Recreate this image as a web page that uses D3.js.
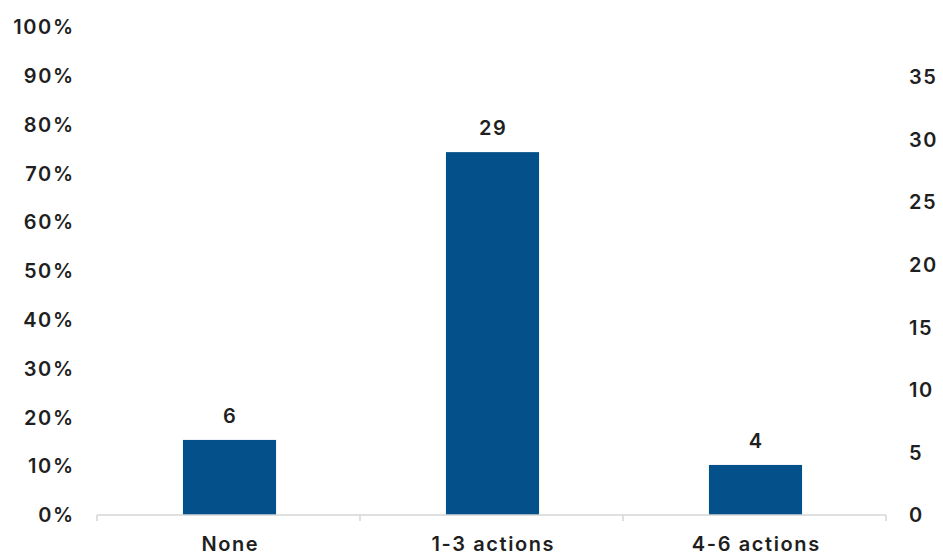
<!DOCTYPE html>
<html>
<head>
<meta charset="utf-8">
<script src="https://cdn.jsdelivr.net/npm/d3@7"></script>
<style>
  html, body { margin: 0; padding: 0; background: #fff; }
  svg text { font-family: "Inter", "Lato", sans-serif; fill: #1f1f1f; font-size: 20px; font-weight: 600; letter-spacing: 1.6px; }
</style>
</head>
<body>
<svg id="chart" width="943" height="557"></svg>
<script>
// Number of actions taken, by group
const categories = ["None", "1-3 actions", "4-6 actions"];
const counts = [6, 29, 4];
const leftTicks = [0, 0.1, 0.2, 0.3, 0.4, 0.5, 0.6, 0.7, 0.8, 0.9, 1.0];
const rightTicks = [0, 5, 10, 15, 20, 25, 30, 35];

const total = d3.sum(counts);
const ls = 1.6; // letter spacing, compensated on anchored text

const svg = d3.select("#chart");
const margin = { top: 27, right: 57, bottom: 42, left: 97 };
const width = 943 - margin.left - margin.right;
const height = 557 - margin.top - margin.bottom;

const g = svg.append("g").attr("transform", `translate(${margin.left},${margin.top})`);

const x = d3.scaleBand().domain(categories).range([0, width]).paddingInner(0).paddingOuter(0);
const yPct = d3.scaleLinear().domain([0, 1]).range([height, 0]);
const yCount = d3.scaleLinear().domain([0, total]).range([height, 0]);

const barW = x.bandwidth() * 0.354;

// Left percentage axis (labels only)
g.append("g")
  .selectAll("text")
  .data(leftTicks)
  .join("text")
  .attr("x", -24 + ls)
  .attr("y", d => yPct(d))
  .attr("dy", "0.36em")
  .attr("text-anchor", "end")
  .text(d => d3.format(".0%")(d));

// Right count axis (labels only)
g.append("g")
  .selectAll("text")
  .data(rightTicks)
  .join("text")
  .attr("x", width + 23)
  .attr("y", d => yCount(d))
  .attr("dy", "0.36em")
  .attr("text-anchor", "start")
  .text(d => d);

// Bars
g.selectAll("rect.bar")
  .data(categories)
  .join("rect")
  .attr("class", "bar")
  .attr("x", d => x(d) + x.bandwidth() / 2 - barW / 2 + 1)
  .attr("width", barW)
  .attr("y", (d, i) => yCount(counts[i]))
  .attr("height", (d, i) => height - yCount(counts[i]))
  .attr("fill", "#03508a");

// Value labels
g.selectAll("text.val")
  .data(categories)
  .join("text")
  .attr("class", "val")
  .attr("x", d => x(d) + x.bandwidth() / 2 + 1 + ls / 2)
  .attr("y", (d, i) => yCount(counts[i]) - 17)
  .attr("text-anchor", "middle")
  .text((d, i) => counts[i]);

// Category axis with boundary ticks
const axis = g.append("g").attr("transform", `translate(0,${height})`);
axis.append("line")
  .attr("x1", 0).attr("x2", width)
  .attr("y1", 0).attr("y2", 0)
  .attr("stroke", "#d6d6d6").attr("stroke-width", 1.5);
const bounds = categories.map(d => x(d)).concat([x(categories[categories.length - 1]) + x.bandwidth()]);
axis.selectAll("line.tick")
  .data(bounds)
  .join("line")
  .attr("class", "tick")
  .attr("x1", d => d).attr("x2", d => d)
  .attr("y1", 0).attr("y2", 6)
  .attr("stroke", "#d6d6d6").attr("stroke-width", 1.5);
axis.selectAll("text")
  .data(categories)
  .join("text")
  .attr("x", d => x(d) + x.bandwidth() / 2 + 1 + ls / 2)
  .attr("y", 36)
  .attr("text-anchor", "middle")
  .text(d => d);
</script>
</body>
</html>
